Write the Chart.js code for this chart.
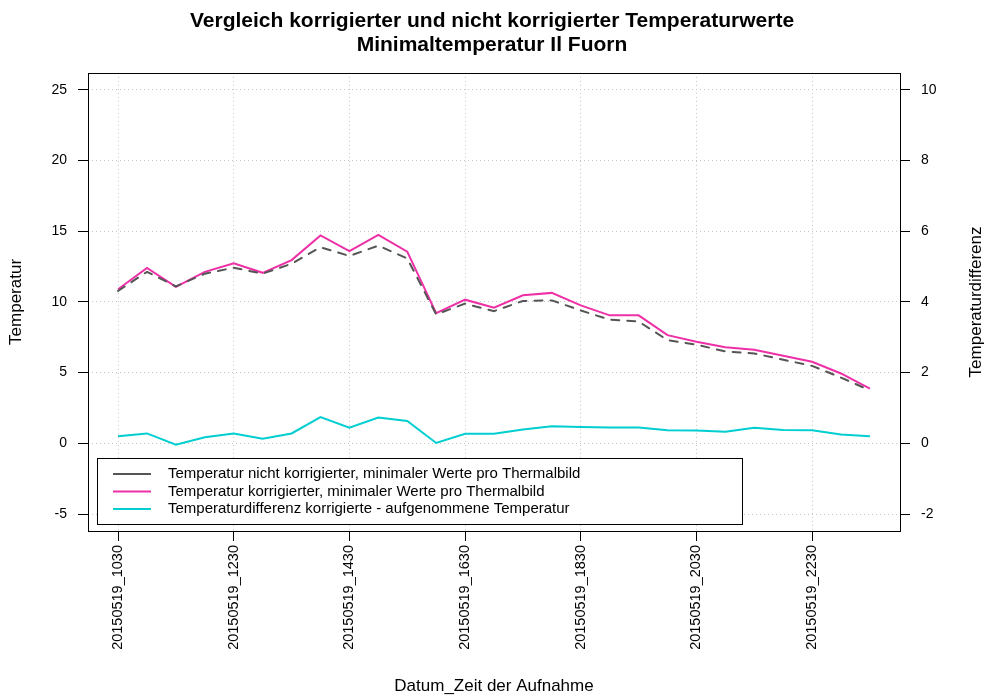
<!DOCTYPE html>
<html>
<head>
<meta charset="utf-8">
<title>Minimaltemperatur Il Fuorn</title>
<script src="https://cdn.jsdelivr.net/npm/chart.js@4"></script>
<style>
  body { margin: 0; background: #fff; }
  #wrap { width: 984px; height: 700px; }
</style>
</head>
<body>
<div id="wrap"><canvas id="chart" width="984" height="700"></canvas></div>
<script>
// ---- DATA ----
const times = [
    "20150519_1030", "20150519_1100", "20150519_1130", "20150519_1200", "20150519_1230",
    "20150519_1300", "20150519_1330", "20150519_1400", "20150519_1430", "20150519_1500",
    "20150519_1530", "20150519_1600", "20150519_1630", "20150519_1700", "20150519_1730",
    "20150519_1800", "20150519_1830", "20150519_1900", "20150519_1930", "20150519_2000",
    "20150519_2030", "20150519_2100", "20150519_2130", "20150519_2200", "20150519_2230",
    "20150519_2300", "20150519_2330"
];

// Temperatur nicht korrigiert (min.)
const tempRaw = [
    10.78, 12.13, 11.10, 12.00, 12.42, 12.00, 12.70, 13.87, 13.25, 13.98,
    13.08, 9.12, 9.88, 9.35, 10.07, 10.11, 9.40, 8.74, 8.62, 7.30,
    6.98, 6.50, 6.36, 5.91, 5.48, 4.65, 3.75
];

// Temperatur korrigiert (min.)
const tempCorr = [
    10.90, 12.40, 11.06, 12.13, 12.73, 12.06, 12.96, 14.70, 13.60, 14.75,
    13.56, 9.21, 10.16, 9.59, 10.47, 10.64, 9.76, 9.05, 9.05, 7.65,
    7.19, 6.79, 6.62, 6.20, 5.77, 4.94, 3.87
];

// Differenz korrigiert - aufgenommen (rechte Achse)
const tempDiff = [
    0.20, 0.28, -0.04, 0.17, 0.28, 0.13, 0.28, 0.74, 0.44, 0.73,
    0.63, 0.01, 0.27, 0.27, 0.39, 0.48, 0.46, 0.45, 0.45, 0.37,
    0.36, 0.33, 0.44, 0.38, 0.37, 0.25, 0.20
];

const xTickIdx = [0, 4, 8, 12, 16, 20, 24];
const leftTicks = [-5, 0, 5, 10, 15, 20, 25];
const rightTicks = [-2, 0, 2, 4, 6, 8, 10];

Chart.defaults.font.family = "'Liberation Sans', Arial, sans-serif";
Chart.defaults.color = "#000";

const toPoints = arr => arr.map((v, i) => ({ x: i, y: v }));

// box around the plot region
const boxPlugin = {
    id: "plotBox",
    afterDraw(chart) {
        const { ctx, chartArea: a } = chart;
        ctx.save();
        ctx.strokeStyle = "#000";
        ctx.lineWidth = 1;
        ctx.strokeRect(Math.round(a.left) + 0.5, Math.round(a.top) + 0.5,
            Math.round(a.right - a.left), Math.round(a.bottom - a.top));
        ctx.restore();
    }
};

// legend box in the lower left of the plot, like R's legend()
const legendPlugin = {
    id: "boxLegend",
    afterDatasetsDraw(chart) {
        const { ctx } = chart;
        const x0 = 97, y0 = 458, w = 645, h = 66;
        ctx.save();
        ctx.fillStyle = "#fff";
        ctx.fillRect(x0, y0, w, h);
        ctx.strokeStyle = "#000";
        ctx.lineWidth = 1;
        ctx.strokeRect(x0 + 0.5, y0 + 0.5, w, h);
        ctx.font = "15px 'Liberation Sans', Arial, sans-serif";
        ctx.textBaseline = "middle";
        chart.data.datasets.forEach((ds, i) => {
            const y = y0 + 16 + i * 17.5;
            ctx.strokeStyle = ds.borderColor;
            ctx.lineWidth = 2;
            ctx.beginPath();
            ctx.moveTo(x0 + 16, y);
            ctx.lineTo(x0 + 54, y);
            ctx.stroke();
            ctx.fillStyle = "#000";
            ctx.fillText(ds.label, x0 + 71, y);
        });
        ctx.restore();
    }
};

// right axis title reads bottom-to-top like the left one
const rightTitlePlugin = {
    id: "rightTitle",
    afterDraw(chart) {
        const { ctx, chartArea: a } = chart;
        ctx.save();
        ctx.translate(976, (a.top + a.bottom) / 2);
        ctx.rotate(-Math.PI / 2);
        ctx.font = "17px 'Liberation Sans', Arial, sans-serif";
        ctx.fillStyle = "#000";
        ctx.textAlign = "center";
        ctx.textBaseline = "middle";
        ctx.fillText("Temperaturdifferenz", 0, 0);
        ctx.restore();
    }
};

const ctx = document.getElementById("chart").getContext("2d");

new Chart(ctx, {
    type: "line",
    data: {
        datasets: [
            {
                label: "Temperatur nicht korrigierter, minimaler Werte pro Thermalbild",
                data: toPoints(tempRaw),
                borderColor: "#555555",
                borderWidth: 2,
                borderDash: [8, 8],
                borderCapStyle: "round",
                pointRadius: 0,
                yAxisID: "y"
            },
            {
                label: "Temperatur korrigierter, minimaler Werte pro Thermalbild",
                data: toPoints(tempCorr),
                borderColor: "#ee30a7",
                borderWidth: 2,
                pointRadius: 0,
                yAxisID: "y"
            },
            {
                label: "Temperaturdifferenz korrigierte - aufgenommene Temperatur",
                data: toPoints(tempDiff),
                borderColor: "#00ced1",
                borderWidth: 2,
                pointRadius: 0,
                yAxisID: "y2"
            }
        ]
    },
    options: {
        responsive: false,
        animation: false,
        layout: { padding: 0 },
        plugins: {
            legend: { display: false },
            tooltip: { enabled: false },
            title: {
                display: true,
                text: ["Vergleich korrigierter und nicht korrigierter Temperaturwerte",
                       "Minimaltemperatur Il Fuorn"],
                font: { size: 21, weight: "bold", lineHeight: 1.14 },
                color: "#000",
                padding: { top: 9, bottom: 16 }
            }
        },
        scales: {
            x: {
                type: "linear",
                min: -1.04,
                max: 27.04,
                afterBuildTicks: axis => { axis.ticks = xTickIdx.map(v => ({ value: v })); },
                afterFit: axis => { axis.height = 169; },
                ticks: {
                    autoSkip: false,
                    minRotation: 90,
                    maxRotation: 90,
                    padding: 4,
                    font: { size: 14.5 },
                    color: "#000",
                    callback: v => times[v]
                },
                grid: { color: "#c4c4c4", tickColor: "#000", tickLength: 10, tickBorderDash: [] },
                border: { display: false, dash: [1, 3] },
                title: {
                    display: true,
                    text: "Datum_Zeit der Aufnahme",
                    font: { size: 17 },
                    color: "#000",
                    padding: { top: 0, bottom: 3 }
                }
            },
            y: {
                position: "left",
                min: -6.2,
                max: 26.2,
                afterBuildTicks: axis => { axis.ticks = leftTicks.map(v => ({ value: v })); },
                afterFit: axis => { axis.width = 88; },
                ticks: { padding: 11, font: { size: 14 }, color: "#000" },
                grid: { color: "#c4c4c4", tickColor: "#000", tickLength: 10, tickBorderDash: [] },
                border: { display: false, dash: [1, 3] },
                title: {
                    display: true,
                    text: "Temperatur",
                    font: { size: 17 },
                    color: "#000",
                    padding: { top: 6, bottom: 0 }
                }
            },
            y2: {
                position: "right",
                min: -2.48,
                max: 10.48,
                afterBuildTicks: axis => { axis.ticks = rightTicks.map(v => ({ value: v })); },
                afterFit: axis => { axis.width = 84; },
                ticks: { padding: 11, font: { size: 14 }, color: "#000" },
                grid: { drawOnChartArea: false, color: "#000", tickColor: "#000", tickLength: 10 },
                border: { display: false }
            }
        }
    },
    plugins: [legendPlugin, boxPlugin, rightTitlePlugin]
});
</script>
</body>
</html>
